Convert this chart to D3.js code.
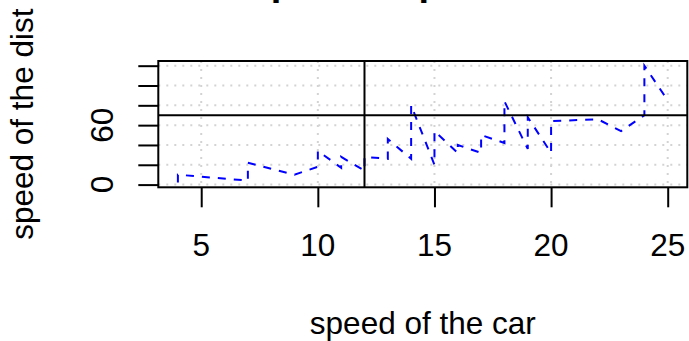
<!DOCTYPE html>
<html lang="en">
<head>
    <meta charset="utf-8">
    <title>cars</title>
    <script type="text/javascript" src="https://d3js.org/d3.v7.min.js"></script>
    <style>
        body { margin: 0; background: #fff; }
        text { font-family: "Liberation Sans", Arial, sans-serif; }
    </style>
</head>
<body>
    <div id="viz"></div>

    <script type="text/javascript">
        // cars data (speed, dist)
        const speed = [4, 4, 7, 7, 8, 9, 10, 10, 10, 11, 11, 12, 12, 12, 12, 13, 13, 13, 13, 14, 14, 14, 14, 15, 15, 15, 16, 16, 17, 17, 17, 18, 18, 18, 18, 19, 19, 19, 20, 20, 20, 20, 20, 22, 23, 24, 24, 24, 24, 25];
        const dist = [2, 10, 4, 22, 16, 10, 18, 26, 34, 17, 28, 14, 20, 24, 28, 26, 34, 34, 46, 26, 36, 60, 80, 20, 26, 54, 32, 40, 32, 40, 50, 42, 56, 76, 84, 36, 46, 68, 32, 48, 52, 56, 64, 66, 54, 70, 92, 93, 120, 85];

        const xTicks = [5, 10, 15, 20, 25];
        const yTicks = [0, 20, 40, 60, 80, 100, 120];
        const yLabels = [0, 60];
        const vLine = 12;
        const hLine = 70;

        const width = 689;
        const height = 341;
        const plot = {left: 158.3, right: 687.3, top: 61, bottom: 187.3};

        const svg = d3.select("#viz")
            .append("svg")
            .attr("width", width)
            .attr("height", height);

        // R style 4% padding on both axes
        const xPad = (d3.max(speed) - d3.min(speed)) * 0.04;
        const yPad = (d3.max(dist) - d3.min(dist)) * 0.04;

        const xScale = d3.scaleLinear()
            .domain([d3.min(speed) - xPad, d3.max(speed) + xPad])
            .range([plot.left, plot.right]);
        const yScale = d3.scaleLinear()
            .domain([d3.min(dist) - yPad, d3.max(dist) + yPad])
            .range([plot.bottom, plot.top]);

        // grid
        svg.append("g")
            .selectAll("line")
            .data(xTicks)
            .enter()
            .append("line")
                .attr("x1", d => xScale(d)).attr("x2", d => xScale(d))
                .attr("y1", plot.top).attr("y2", plot.bottom)
                .attr("stroke", "lightgray")
                .attr("stroke-width", 2)
                .attr("stroke-dasharray", "2,6");
        svg.append("g")
            .selectAll("line")
            .data(yTicks)
            .enter()
            .append("line")
                .attr("y1", d => yScale(d)).attr("y2", d => yScale(d))
                .attr("x1", plot.left).attr("x2", plot.right)
                .attr("stroke", "lightgray")
                .attr("stroke-width", 2)
                .attr("stroke-dasharray", "2,6");

        // data line
        const line = d3.line()
            .x((d, i) => xScale(speed[i]))
            .y(d => yScale(d));
        svg.append("path")
            .datum(dist)
            .attr("d", line)
            .attr("fill", "none")
            .attr("stroke", "blue")
            .attr("stroke-width", 2)
            .attr("stroke-dasharray", "8,8");

        // reference lines
        svg.append("line")
            .attr("x1", xScale(vLine)).attr("x2", xScale(vLine))
            .attr("y1", plot.top).attr("y2", plot.bottom)
            .attr("stroke", "black").attr("stroke-width", 2);
        svg.append("line")
            .attr("x1", plot.left).attr("x2", plot.right)
            .attr("y1", yScale(hLine)).attr("y2", yScale(hLine))
            .attr("stroke", "black").attr("stroke-width", 2);

        // axes
        const xAxis = d3.axisBottom(xScale)
            .tickValues(xTicks)
            .tickSize(20)
            .tickPadding(0)
            .tickFormat("");
        svg.append("g")
            .attr("transform", `translate(0,${plot.bottom})`)
            .call(xAxis)
            .call(g => g.select(".domain").remove())
            .call(g => g.selectAll(".tick line").attr("stroke", "black").attr("stroke-width", 2));

        const yAxis = d3.axisLeft(yScale)
            .tickValues(yTicks)
            .tickSize(20)
            .tickFormat("");
        svg.append("g")
            .attr("transform", `translate(${plot.left},0)`)
            .call(yAxis)
            .call(g => g.select(".domain").remove())
            .call(g => g.selectAll(".tick line").attr("stroke", "black").attr("stroke-width", 2));

        // tick labels
        svg.append("g")
            .selectAll("text")
            .data(xTicks)
            .enter()
            .append("text")
                .attr("x", d => xScale(d))
                .attr("y", 256)
                .attr("text-anchor", "middle")
                .attr("font-size", 31.5)
                .text(d => d);
        svg.append("g")
            .selectAll("text")
            .data(yLabels)
            .enter()
            .append("text")
                .attr("transform", d => `translate(113,${yScale(d)}) rotate(-90)`)
                .attr("text-anchor", "middle")
                .attr("font-size", 31.5)
                .text(d => d);

        // box
        svg.append("rect")
            .attr("x", plot.left).attr("y", plot.top)
            .attr("width", plot.right - plot.left)
            .attr("height", plot.bottom - plot.top)
            .attr("fill", "none")
            .attr("stroke", "black")
            .attr("stroke-width", 2);

        // titles
        svg.append("text")
            .attr("x", (plot.left + plot.right) / 2)
            .attr("y", 334)
            .attr("text-anchor", "middle")
            .attr("font-size", 31.5)
            .text("speed of the car");
        svg.append("text")
            .attr("transform", `translate(33,${(plot.top + plot.bottom) / 2}) rotate(-90)`)
            .attr("text-anchor", "middle")
            .attr("font-size", 31.5)
            .text("speed of the dist");
        svg.append("text")
            .attr("x", (plot.left + plot.right) / 2)
            .attr("y", -5)
            .attr("text-anchor", "middle")
            .attr("font-size", 38)
            .attr("font-weight", "bold")
            .text("Line plot of speed and dist");
    </script>
</body>
</html>
